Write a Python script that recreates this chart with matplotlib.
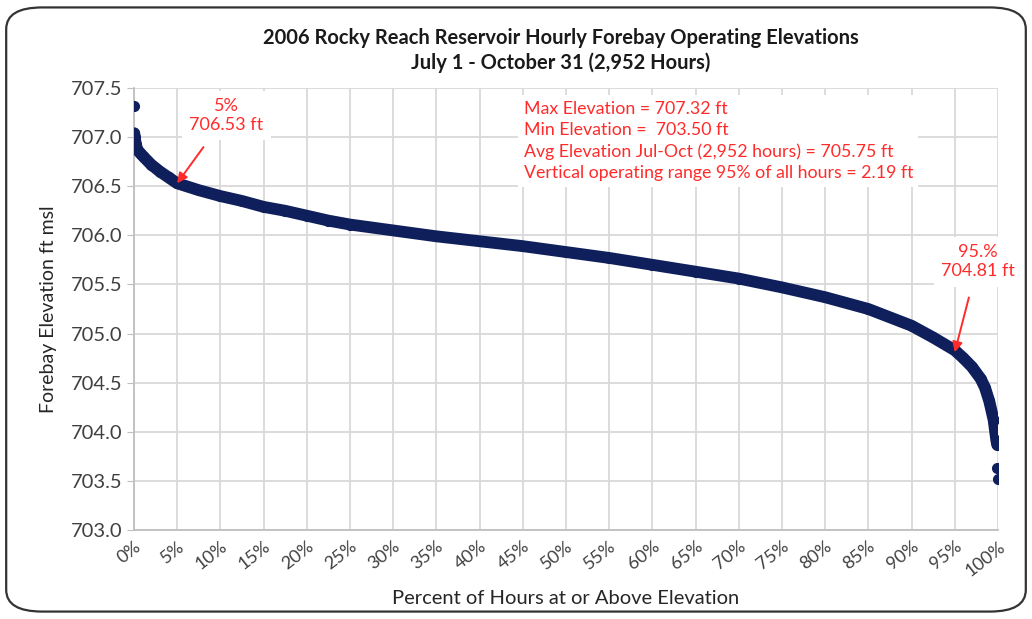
import numpy as np
import matplotlib
matplotlib.use('Agg')
import matplotlib.pyplot as plt
import matplotlib.patches as patches
from matplotlib.ticker import PercentFormatter, MultipleLocator

# === DATA ===
# sorted hourly elevations: percent of hours at or above vs. elevation (ft)
PCT_CURVE = [0.03, 0.1, 0.2, 0.4, 0.7, 1.0, 2.0, 3.0, 4.0, 5.0, 7.5, 10, 12.5, 15,
             17.5, 20, 22.5, 25, 27.5, 30, 35, 40, 45, 50, 55, 60, 65, 70, 75,
             80, 85, 90, 92.5, 95, 96, 97, 98, 98.5, 99, 99.5, 99.8, 99.9]
ELEV_CURVE = [707.04, 707.00, 706.93, 706.87, 706.84, 706.81, 706.72, 706.65, 706.59,
              706.53, 706.46, 706.40, 706.35, 706.29, 706.25, 706.20, 706.15, 706.11,
              706.08, 706.05, 705.99, 705.94, 705.89, 705.83, 705.77, 705.70, 705.63,
              705.56, 705.47, 705.37, 705.25, 705.08, 704.96, 704.83, 704.75, 704.66,
              704.54, 704.45, 704.31, 704.12, 703.92, 703.87]
# isolated hours (max and the two lowest)
PCT_SINGLE = [0.0, 99.92, 99.97]
ELEV_SINGLE = [707.32, 703.63, 703.52]

STATS = ["Max Elevation = 707.32 ft",
         "Min Elevation =  703.50 ft",
         "Avg Elevation Jul-Oct (2,952 hours) = 705.75 ft",
         "Vertical operating range 95% of all hours = 2.19 ft"]

NAVY = '#0f1f5c'
RED = '#ff2b2b'
GRID = '#d9d9d9'
plt.rcParams['font.family'] = ['Lato', 'DejaVu Sans']

# === FIGURE ===
fig = plt.figure(figsize=(10.32, 6.19), dpi=100)
ax = fig.add_axes([0.1298, 0.1438, 0.8372, 0.714])

ax.plot(PCT_CURVE, ELEV_CURVE, color=NAVY, lw=8.5, solid_capstyle='round',
        marker='o', ms=7, zorder=3)
ax.plot(PCT_SINGLE, ELEV_SINGLE, 'o', color=NAVY, ms=7, zorder=3)

ax.set_xlim(0, 100)
ax.set_ylim(703.0, 707.5)
ax.xaxis.set_major_locator(MultipleLocator(5))
ax.xaxis.set_major_formatter(PercentFormatter(decimals=0))
ax.yaxis.set_major_locator(MultipleLocator(0.5))
ax.yaxis.set_major_formatter(matplotlib.ticker.FormatStrFormatter('%.1f'))

ax.grid(True, color=GRID, lw=1.3, zorder=0)
ax.set_axisbelow(True)
for s in ['top', 'right']:
    ax.spines[s].set_visible(False)
for s in ['left', 'bottom']:
    ax.spines[s].set_color('#bfbfbf')
    ax.spines[s].set_linewidth(1.3)
ax.tick_params(axis='y', length=5, color='#bfbfbf', labelsize=14.5,
               labelcolor='#404040', pad=3)
ax.tick_params(axis='x', length=0, labelsize=13, labelcolor='#404040', pad=6)
for lbl in ax.get_xticklabels():
    lbl.set_rotation(38)
    lbl.set_ha('right')
    lbl.set_rotation_mode('anchor')

ax.set_ylabel('Forebay Elevation ft msl', fontsize=14, color='#262626', labelpad=10)
ax.set_xlabel('Percent of Hours at or Above Elevation', fontsize=14.5,
              color='#262626', labelpad=8)

fig.text(0.543, 0.938, '2006 Rocky Reach Reservoir Hourly Forebay Operating Elevations',
         ha='center', va='center', fontsize=14.5, fontweight='bold', color='#1a1a1a')
fig.text(0.543, 0.899, 'July 1 - October 31 (2,952 Hours)',
         ha='center', va='center', fontsize=14.5, fontweight='bold', color='#1a1a1a')

# annotations
bbox = dict(boxstyle='square,pad=0.4', fc='white', ec='none')
ax.annotate('5%\n706.53 ft', xy=(5, 706.53), xytext=(10.7, 707.22),
            ha='center', va='center', fontsize=13, color=RED, bbox=bbox,
            linespacing=1.25, zorder=5,
            arrowprops=dict(arrowstyle='-|>', color=RED, lw=1.4,
                            mutation_scale=15, shrinkA=6, shrinkB=0))
ax.annotate('95.%\n704.81 ft', xy=(95, 704.81), xytext=(97.7, 705.73),
            ha='center', va='center', fontsize=13, color=RED, bbox=bbox,
            linespacing=1.25, zorder=5,
            arrowprops=dict(arrowstyle='-|>', color=RED, lw=1.4,
                            mutation_scale=15, shrinkA=8, shrinkB=0))
ax.text(45.1, 707.37, '\n'.join(STATS), ha='left', va='top', fontsize=12.8,
        color=RED, linespacing=1.4, zorder=5,
        bbox=dict(boxstyle='square,pad=0.3', fc='white', ec='none'))

# rounded chart border
border = patches.FancyBboxPatch((0.006, 0.012), 0.988, 0.976,
                                boxstyle='round,pad=0,rounding_size=0.035',
                                transform=fig.transFigure, fc='none',
                                ec='#333333', lw=1.6)
fig.patches.append(border)

fig.savefig('out.png', dpi=100)
